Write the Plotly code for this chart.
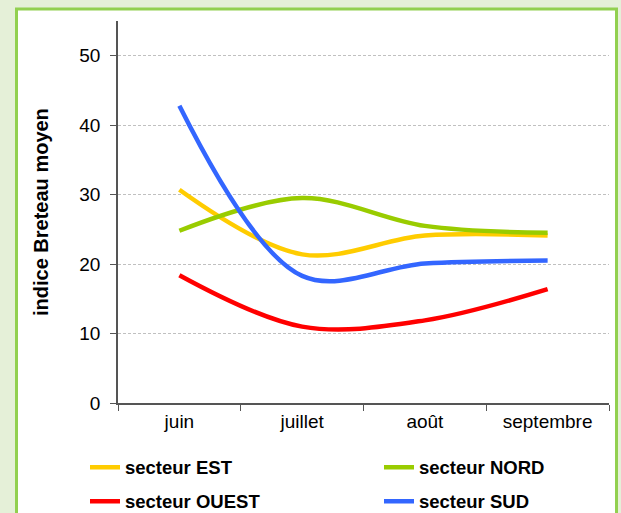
import plotly.graph_objects as go

months = ["juin", "juillet", "août", "septembre"]
est = [30.7, 21.4, 24.1, 24.1]
nord = [24.8, 29.5, 25.5, 24.5]
ouest = [18.4, 11.0, 11.9, 16.4]
sud = [42.8, 18.3, 20.1, 20.5]
y_ticks = [0, 10, 20, 30, 40, 50]

series = [
    ("secteur EST", est, "#ffcc00", "legend", 85, 467.7),
    ("secteur NORD", nord, "#99cc00", "legend2", 379, 467.7),
    ("secteur OUEST", ouest, "#ff0000", "legend3", 85, 501.7),
    ("secteur SUD", sud, "#3366ff", "legend4", 379, 501.7),
]

W, H = 621, 513
L, R, T, B = 118, 12, 21, 110
pw, ph = W - L - R, H - T - B

fig = go.Figure()
for name, vals, col, lg, _, _ in series:
    fig.add_trace(go.Scatter(
        x=months, y=vals, name=name, mode="lines",
        line=dict(color=col, width=4.5, shape="spline", smoothing=1.0),
        legend=lg, showlegend=True,
    ))

def px2x(p):
    return (p - L) / pw

def py2y(p):
    return (H - B - p) / ph

fig.add_shape(type="rect", xref="paper", yref="paper",
              x0=px2x(16.5), x1=px2x(616.5), y0=py2y(540), y1=py2y(9),
              fillcolor="white", line=dict(color="#92d050", width=3),
              layer="below")

FAM = "Liberation Sans, Arial, sans-serif"
axis_font = dict(family=FAM, size=19, color="#000")

legends = {}
for name, vals, col, lg, lx, ly in series:
    legends[lg] = dict(
        orientation="h", xref="container", yref="container",
        x=lx / W, y=(H - ly) / H, xanchor="left", yanchor="middle",
        bgcolor="rgba(0,0,0,0)", visible=True,
        font=dict(family=FAM, size=18.5, color="#000", weight="bold"),
    )

fig.update_layout(
    width=W, height=H,
    margin=dict(l=L, r=R, t=T, b=B),
    paper_bgcolor="#e5f0d8",
    plot_bgcolor="white",
    font=axis_font,
    showlegend=True,
    xaxis=dict(
        type="category", range=[-0.5, 3.5], tickson="boundaries",
        ticks="outside", ticklen=6, tickcolor="#555", tickwidth=1,
        showline=True, linecolor="#555", linewidth=1.5,
        showgrid=False, zeroline=False, tickfont=axis_font,
    ),
    yaxis=dict(
        range=[0, 55], tickvals=y_ticks,
        ticks="outside", ticklen=6, tickcolor="#555", tickwidth=1,
        showline=True, linecolor="#555", linewidth=1.5,
        showgrid=True, gridcolor="#c0c0c0", gridwidth=1, griddash="3px,2px",
        zeroline=False, tickfont=axis_font, ticklabelstandoff=6,
    ),
    annotations=[dict(
        text="<b>indice Breteau moyen</b>", xref="paper", yref="paper",
        x=px2x(41), y=0.5, xanchor="center", yanchor="middle",
        textangle=-90, showarrow=False,
        font=dict(family=FAM, size=20, color="#000"),
    )],
    **legends,
)

fig.write_html(
    "out.html",
    config={"displayModeBar": False},
    post_script="document.body.style.margin='0';document.body.style.overflow='hidden';",
)
